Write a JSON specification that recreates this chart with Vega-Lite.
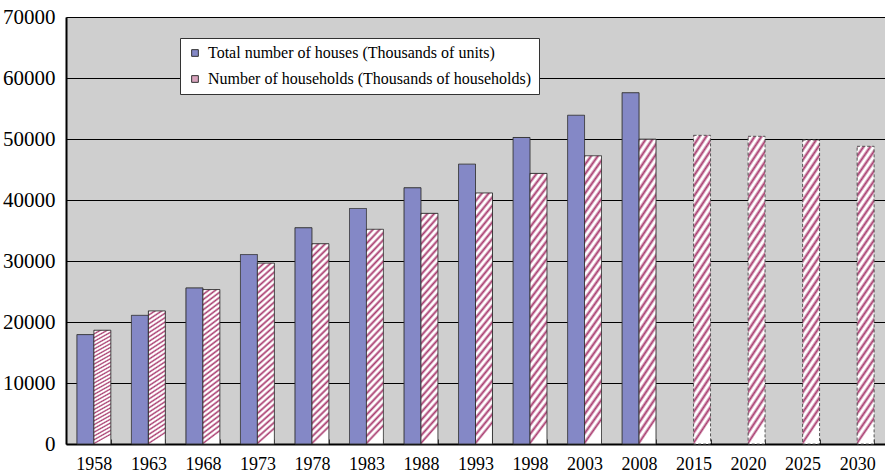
{
  "$schema": "https://vega.github.io/schema/vega-lite/v6.json",
  "width": 819,
  "height": 427,
  "autosize": {"type": "none"},
  "padding": {"left": 66, "top": 17, "right": 0, "bottom": 31},
  "background": "white",
  "config": {
    "view": {"fill": "#CFCFCF", "stroke": null},
    "font": "Liberation Serif"
  },
  "data": {
    "values": [
      {"year": "1958", "series": "Total number of houses (Thousands of units)", "value": 17934},
      {"year": "1958", "series": "Number of households (Thousands of households)", "value": 18647},
      {"year": "1963", "series": "Total number of houses (Thousands of units)", "value": 21090},
      {"year": "1963", "series": "Number of households (Thousands of households)", "value": 21821},
      {"year": "1968", "series": "Total number of houses (Thousands of units)", "value": 25591},
      {"year": "1968", "series": "Number of households (Thousands of households)", "value": 25320},
      {"year": "1973", "series": "Total number of houses (Thousands of units)", "value": 31059},
      {"year": "1973", "series": "Number of households (Thousands of households)", "value": 29651},
      {"year": "1978", "series": "Total number of houses (Thousands of units)", "value": 35451},
      {"year": "1978", "series": "Number of households (Thousands of households)", "value": 32835},
      {"year": "1983", "series": "Total number of houses (Thousands of units)", "value": 38607},
      {"year": "1983", "series": "Number of households (Thousands of households)", "value": 35197},
      {"year": "1988", "series": "Total number of houses (Thousands of units)", "value": 42007},
      {"year": "1988", "series": "Number of households (Thousands of households)", "value": 37812},
      {"year": "1993", "series": "Total number of houses (Thousands of units)", "value": 45879},
      {"year": "1993", "series": "Number of households (Thousands of households)", "value": 41159},
      {"year": "1998", "series": "Total number of houses (Thousands of units)", "value": 50246},
      {"year": "1998", "series": "Number of households (Thousands of households)", "value": 44360},
      {"year": "2003", "series": "Total number of houses (Thousands of units)", "value": 53891},
      {"year": "2003", "series": "Number of households (Thousands of households)", "value": 47255},
      {"year": "2008", "series": "Total number of houses (Thousands of units)", "value": 57586},
      {"year": "2008", "series": "Number of households (Thousands of households)", "value": 49973},
      {"year": "2015", "series": "Number of households (Thousands of households)", "value": 50600},
      {"year": "2020", "series": "Number of households (Thousands of households)", "value": 50441},
      {"year": "2025", "series": "Number of households (Thousands of households)", "value": 49837},
      {"year": "2030", "series": "Number of households (Thousands of households)", "value": 48802}
    ]
  },
  "mark": {"type": "bar", "strokeWidth": 1},
  "encoding": {
    "x": {
      "field": "year",
      "type": "ordinal",
      "sort": null,
      "scale": {"paddingInner": 0.378},
      "axis": {
        "title": null,
        "labelAngle": 0,
        "labelFont": "Liberation Serif",
        "labelFontSize": 18,
        "labelColor": "black",
        "labelPadding": 16,
        "domainColor": "black",
        "domainWidth": 2,
        "tickBand": "extent",
        "tickSize": -5,
        "tickColor": "#333333",
        "grid": false
      }
    },
    "xOffset": {
      "field": "series",
      "type": "nominal",
      "scale": {"domain": ["Total number of houses (Thousands of units)", "Number of households (Thousands of households)"], "paddingInner": 0}
    },
    "y": {
      "field": "value",
      "type": "quantitative",
      "scale": {"domain": [0, 70000], "nice": false},
      "axis": {
        "title": null,
        "values": [0, 10000, 20000, 30000, 40000, 50000, 60000, 70000],
        "format": "d",
        "labelFont": "Liberation Serif",
        "labelFontSize": 21,
        "labelColor": "black",
        "labelPadding": 11,
        "ticks": false,
        "tickSize": 0,
        "domainColor": "black",
        "domainWidth": 2,
        "grid": true,
        "gridColor": "black",
        "gridWidth": 1.2
      }
    },
    "fill": {
      "condition": {
        "test": "datum.series === 'Number of households (Thousands of households)'",
        "value": {
          "gradient": "linear",
          "x1": 0, "y1": 0, "x2": 0.0833, "y2": 1,
          "stops": [
            {"offset": 0, "color": "#A83A6E"}, {"offset": 0.012, "color": "white"}, {"offset": 0.02, "color": "white"},
            {"offset": 0.033, "color": "#A83A6E"}, {"offset": 0.045, "color": "white"}, {"offset": 0.053, "color": "white"},
            {"offset": 0.066, "color": "#A83A6E"}, {"offset": 0.078, "color": "white"}, {"offset": 0.086, "color": "white"},
            {"offset": 0.099, "color": "#A83A6E"}, {"offset": 0.111, "color": "white"}, {"offset": 0.119, "color": "white"},
            {"offset": 0.132, "color": "#A83A6E"}, {"offset": 0.144, "color": "white"}, {"offset": 0.152, "color": "white"},
            {"offset": 0.165, "color": "#A83A6E"}, {"offset": 0.177, "color": "white"}, {"offset": 0.185, "color": "white"},
            {"offset": 0.198, "color": "#A83A6E"}, {"offset": 0.21, "color": "white"}, {"offset": 0.218, "color": "white"},
            {"offset": 0.231, "color": "#A83A6E"}, {"offset": 0.243, "color": "white"}, {"offset": 0.251, "color": "white"},
            {"offset": 0.264, "color": "#A83A6E"}, {"offset": 0.276, "color": "white"}, {"offset": 0.284, "color": "white"},
            {"offset": 0.297, "color": "#A83A6E"}, {"offset": 0.309, "color": "white"}, {"offset": 0.317, "color": "white"},
            {"offset": 0.33, "color": "#A83A6E"}, {"offset": 0.342, "color": "white"}, {"offset": 0.35, "color": "white"},
            {"offset": 0.363, "color": "#A83A6E"}, {"offset": 0.375, "color": "white"}, {"offset": 0.383, "color": "white"},
            {"offset": 0.396, "color": "#A83A6E"}, {"offset": 0.408, "color": "white"}, {"offset": 0.416, "color": "white"},
            {"offset": 0.429, "color": "#A83A6E"}, {"offset": 0.441, "color": "white"}, {"offset": 0.449, "color": "white"},
            {"offset": 0.462, "color": "#A83A6E"}, {"offset": 0.474, "color": "white"}, {"offset": 0.482, "color": "white"},
            {"offset": 0.495, "color": "#A83A6E"}, {"offset": 0.507, "color": "white"}, {"offset": 0.515, "color": "white"},
            {"offset": 0.528, "color": "#A83A6E"}, {"offset": 0.54, "color": "white"}, {"offset": 0.548, "color": "white"},
            {"offset": 0.561, "color": "#A83A6E"}, {"offset": 0.573, "color": "white"}, {"offset": 0.581, "color": "white"},
            {"offset": 0.594, "color": "#A83A6E"}, {"offset": 0.606, "color": "white"}, {"offset": 0.614, "color": "white"},
            {"offset": 0.627, "color": "#A83A6E"}, {"offset": 0.639, "color": "white"}, {"offset": 0.647, "color": "white"},
            {"offset": 0.66, "color": "#A83A6E"}, {"offset": 0.672, "color": "white"}, {"offset": 0.68, "color": "white"},
            {"offset": 0.693, "color": "#A83A6E"}, {"offset": 0.705, "color": "white"}, {"offset": 0.713, "color": "white"},
            {"offset": 0.726, "color": "#A83A6E"}, {"offset": 0.738, "color": "white"}, {"offset": 0.746, "color": "white"},
            {"offset": 0.759, "color": "#A83A6E"}, {"offset": 0.771, "color": "white"}, {"offset": 0.779, "color": "white"},
            {"offset": 0.792, "color": "#A83A6E"}, {"offset": 0.804, "color": "white"}, {"offset": 0.812, "color": "white"},
            {"offset": 0.825, "color": "#A83A6E"}, {"offset": 0.837, "color": "white"}, {"offset": 0.845, "color": "white"},
            {"offset": 0.858, "color": "#A83A6E"}, {"offset": 0.87, "color": "white"}, {"offset": 0.878, "color": "white"},
            {"offset": 0.891, "color": "#A83A6E"}, {"offset": 0.903, "color": "white"}, {"offset": 0.911, "color": "white"},
            {"offset": 0.924, "color": "#A83A6E"}, {"offset": 0.936, "color": "white"}, {"offset": 0.944, "color": "white"},
            {"offset": 0.957, "color": "#A83A6E"}, {"offset": 0.969, "color": "white"}, {"offset": 0.977, "color": "white"},
            {"offset": 0.99, "color": "#A83A6E"}, {"offset": 1, "color": "white"}
          ]
        }
      },
      "field": "series",
      "type": "nominal",
      "scale": {
        "domain": ["Total number of houses (Thousands of units)", "Number of households (Thousands of households)"],
        "range": ["#8488C6", "#D9A3BD"]
      },
      "legend": {
        "title": null,
        "orient": "none",
        "legendX": 114,
        "legendY": 21,
        "direction": "vertical",
        "fillColor": "white",
        "strokeColor": "#333333",
        "padding": 7,
        "rowPadding": 10,
        "labelFont": "Liberation Serif",
        "labelFontSize": 16,
        "labelColor": "black",
        "labelLimit": 500,
        "labelOffset": 5,
        "symbolType": "square",
        "symbolSize": 45,
        "symbolStrokeColor": "#333333",
        "symbolStrokeWidth": 1
      }
    },
    "stroke": {
      "condition": {"test": "toNumber(datum.year) >= 2015", "value": "#555555"},
      "value": "#333333"
    },
    "strokeDash": {
      "condition": {"test": "toNumber(datum.year) >= 2015", "value": [3, 2]},
      "value": [1, 0]
    }
  }
}
